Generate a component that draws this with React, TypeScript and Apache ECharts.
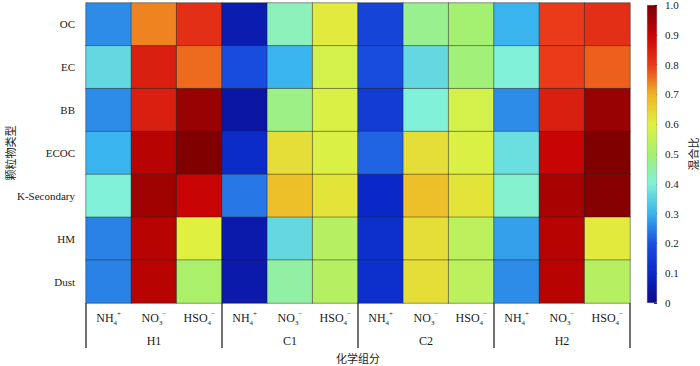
import React, { useEffect, useRef } from 'react';
import * as echarts from 'echarts';

const particleTypes = ['OC', 'EC', 'BB', 'ECOC', 'K-Secondary', 'HM', 'Dust'];
const groups = ['H1', 'C1', 'C2', 'H2'];
const ions = ['NH4+', 'NO3-', 'HSO4-'];
const colorTicks = [0, 0.1, 0.2, 0.3, 0.4, 0.5, 0.6, 0.7, 0.8, 0.9, 1.0];
const jetColors = [
  '#0c0c8c', '#0a28c8', '#1a50e0', '#3ab4ee', '#80f0d8', '#a4f070',
  '#e0f040', '#f0b424', '#ea3a1a', '#c80404', '#780000',
];

// values per particle type, columns: H1(NH4,NO3,HSO4), C1(...), C2(...), H2(...)
const OC = [0.26, 0.74, 0.82, 0.06, 0.43, 0.61, 0.17, 0.47, 0.5, 0.3, 0.8, 0.82];
const EC = [0.36, 0.85, 0.76, 0.19, 0.3, 0.58, 0.19, 0.36, 0.49, 0.4, 0.8, 0.77];
const BB = [0.26, 0.85, 0.96, 0.04, 0.48, 0.59, 0.15, 0.4, 0.58, 0.26, 0.85, 0.96];
const ECOC = [0.3, 0.92, 0.99, 0.11, 0.63, 0.59, 0.22, 0.63, 0.59, 0.37, 0.9, 0.99];
const KSecondary = [0.4, 0.95, 0.9, 0.24, 0.68, 0.62, 0.1, 0.68, 0.62, 0.41, 0.94, 0.98];
const HM = [0.25, 0.92, 0.6, 0.05, 0.36, 0.53, 0.12, 0.63, 0.54, 0.28, 0.92, 0.61];
const Dust = [0.25, 0.92, 0.51, 0.05, 0.45, 0.53, 0.12, 0.63, 0.54, 0.26, 0.92, 0.53];

const rows = [OC, EC, BB, ECOC, KSecondary, HM, Dust];

const SERIF = 'Liberation Serif, DejaVu Serif, serif';
const CJK = 'Noto Sans CJK SC, sans-serif';
const TEXT = '#1a1a1a';

export default function App() {
  const ref = useRef<HTMLDivElement>(null);

  useEffect(() => {
    if (!ref.current) return;
    const chart = echarts.init(ref.current, null, { renderer: 'svg' });

    const columns: string[] = [];
    groups.forEach((g) => ions.forEach((ion) => columns.push(g + '|' + ion)));

    const heatData: number[][] = [];
    rows.forEach((r, yi) => r.forEach((v, xi) => heatData.push([xi, yi, v])));

    const ionLabels = [
      '{b|NH}{sub|4}{sup|+}',
      '{b|NO}{sub|3}{sup|−}',
      '{b|HSO}{sub|4}{sup|−}',
    ];

    const stops = colorTicks.map((t, i) => ({ offset: t, color: jetColors[i] }));

    chart.setOption({
      animation: false,
      textStyle: { fontFamily: SERIF, color: TEXT },
      grid: [
        { left: 86, top: 3, width: 544, height: 300, containLabel: false, outerBoundsMode: 'none' },
        { left: 647, top: 5, width: 10, height: 298, containLabel: false, outerBoundsMode: 'none' },
      ],
      visualMap: {
        show: false,
        type: 'continuous',
        min: 0,
        max: 1,
        seriesIndex: 0,
        inRange: { color: jetColors },
      },
      xAxis: [
        {
          type: 'category',
          gridIndex: 0,
          data: columns,
          position: 'bottom',
          axisLine: { show: false },
          axisTick: { show: false },
          splitLine: { show: false },
          axisLabel: {
            interval: 0,
            margin: 7,
            formatter: (_v: string, idx: number) => ionLabels[idx % 3],
            rich: {
              b: { fontSize: 12, fontFamily: SERIF, color: TEXT, lineHeight: 16 },
              sub: { fontSize: 7, fontFamily: SERIF, color: TEXT, lineHeight: 8, verticalAlign: 'bottom' },
              sup: { fontSize: 7, fontFamily: SERIF, color: TEXT, lineHeight: 8, verticalAlign: 'top' },
            },
          },
        },
        {
          type: 'category',
          gridIndex: 0,
          data: groups,
          position: 'bottom',
          axisLine: { show: false },
          axisTick: { show: true, length: 45, lineStyle: { color: '#444', width: 1.5 } },
          splitLine: { show: false },
          axisLabel: { interval: 0, margin: 32, fontSize: 12, fontFamily: SERIF, color: TEXT },
          name: '化学组分',
          nameLocation: 'middle',
          nameGap: 49,
          nameMoveOverlap: false,
          nameTextStyle: { fontFamily: CJK, fontSize: 11, color: TEXT },
        },
        {
          type: 'category',
          gridIndex: 1,
          data: ['colorbar'],
          show: false,
        },
      ],
      yAxis: [
        {
          type: 'category',
          gridIndex: 0,
          data: particleTypes,
          inverse: true,
          axisLine: { show: false },
          axisTick: { show: false },
          splitLine: { show: false },
          axisLabel: { interval: 0, margin: 11, fontSize: 11, fontFamily: SERIF, color: TEXT },
          name: '颗粒物类型',
          nameLocation: 'middle',
          nameGap: 71,
          nameRotate: 90,
          nameMoveOverlap: false,
          nameTextStyle: { fontFamily: CJK, fontSize: 11, color: TEXT },
        },
        {
          type: 'value',
          gridIndex: 1,
          min: 0,
          max: 1,
          interval: 0.1,
          position: 'right',
          axisLine: { show: false },
          axisTick: { show: true, inside: true, length: 3, lineStyle: { color: '#333', width: 1 } },
          splitLine: { show: false },
          axisLabel: {
            margin: 8,
            fontSize: 11,
            fontFamily: SERIF,
            color: TEXT,
            formatter: (v: number) => (v === 0 ? '0' : v.toFixed(1)),
          },
          name: '混合比',
          nameLocation: 'middle',
          nameGap: 30,
          nameRotate: 90,
          nameMoveOverlap: false,
          nameTextStyle: { fontFamily: CJK, fontSize: 11, color: TEXT },
        },
      ],
      series: [
        {
          type: 'heatmap',
          xAxisIndex: 0,
          yAxisIndex: 0,
          data: heatData,
          itemStyle: { borderColor: 'rgba(30,30,30,0.45)', borderWidth: 1 },
          emphasis: { disabled: true },
        },
        {
          type: 'bar',
          xAxisIndex: 2,
          yAxisIndex: 1,
          data: [1],
          barWidth: '100%',
          silent: true,
          itemStyle: {
            color: new echarts.graphic.LinearGradient(0, 1, 0, 0, stops),
            borderColor: 'rgba(40,40,40,0.4)',
            borderWidth: 0.5,
          },
        },
      ],
    });

    return () => chart.dispose();
  }, []);

  return (
    <div
      ref={ref}
      style={{ position: 'fixed', left: 0, top: 0, width: 700, height: 366, background: '#fff' }}
    />
  );
}
